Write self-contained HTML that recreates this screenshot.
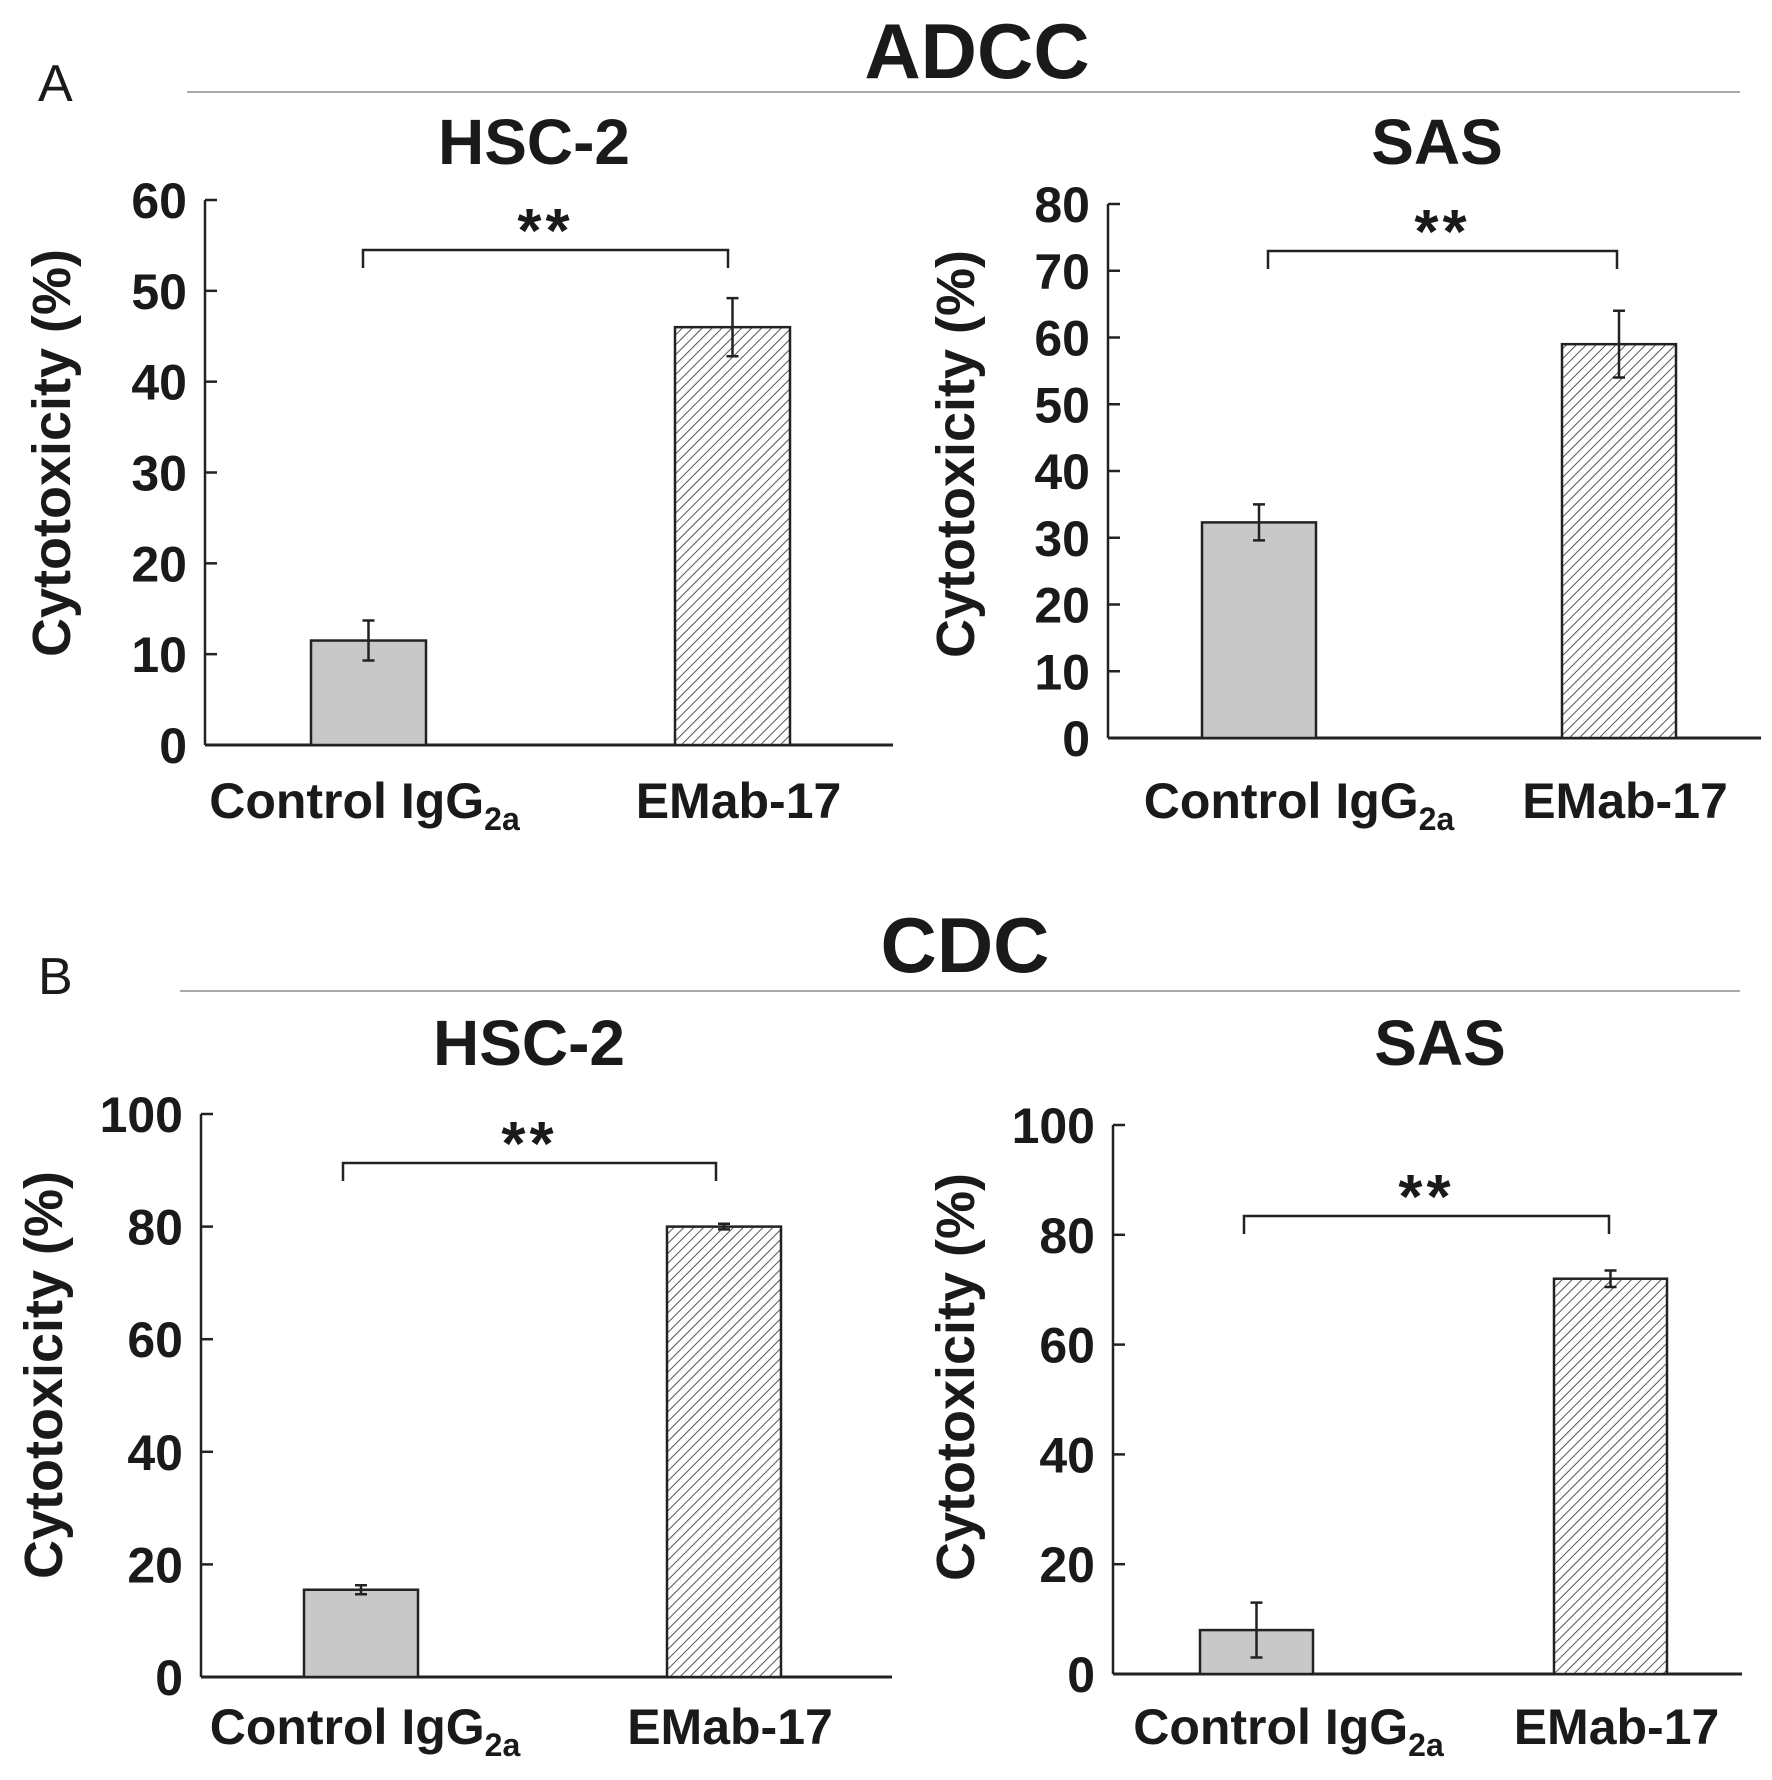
<!DOCTYPE html>
<html><head><meta charset="utf-8"><style>
html,body{margin:0;padding:0;background:#fff}
svg{display:block}
text{font-family:"Liberation Sans",Arial,sans-serif;font-weight:bold;fill:#1a1a1a}
</style></head><body>
<svg id="fig" width="1772" height="1780" viewBox="0 0 1772 1780" xmlns="http://www.w3.org/2000/svg">
<defs>
<pattern id="hatch" patternUnits="userSpaceOnUse" width="7" height="7" patternTransform="rotate(45)">
<rect width="7" height="7" fill="#fff"/>
<line x1="0" y1="0" x2="0" y2="7" stroke="#555" stroke-width="2"/>
</pattern>
</defs>
<text x="38" y="101" font-size="52" style="font-weight:normal">A</text>
<text x="977" y="78" font-size="78" text-anchor="middle">ADCC</text>
<line x1="187" y1="92" x2="1740" y2="92" stroke="#aaa" stroke-width="2"/>
<text x="38" y="994" font-size="52" style="font-weight:normal">B</text>
<text x="965" y="972" font-size="78" text-anchor="middle">CDC</text>
<line x1="180" y1="991" x2="1740" y2="991" stroke="#aaa" stroke-width="2"/>
<g id="charts"></g>
</svg>
<script>
const categories = ["Control IgG2a", "EMab-17"];
const adccHscValues = [11.5, 46];
const adccHscErrors = [2.2, 3.2];
const adccSasValues = [32.3, 59];
const adccSasErrors = [2.7, 5];
const cdcHscValues = [15.5, 80];
const cdcHscErrors = [0.8, 0.5];
const cdcSasValues = [8, 72];
const cdcSasErrors = [5, 1.5];
const adccHscTicks = [0, 10, 20, 30, 40, 50, 60];
const adccSasTicks = [0, 10, 20, 30, 40, 50, 60, 70, 80];
const cdcTicks = [0, 20, 40, 60, 80, 100];

const NS = "http://www.w3.org/2000/svg";
const root = document.getElementById("charts");
function mk(tag, attrs, parent){
  const e = document.createElementNS(NS, tag);
  for (const k in attrs) e.setAttribute(k, attrs[k]);
  (parent || root).appendChild(e);
  return e;
}
function chart(cfg){
  const g = mk("g", {});
  
  
  const max = cfg.ticks[cfg.ticks.length-1];
  const y = v => cfg.y0 - (v / max) * (cfg.y0 - cfg.yTop);
  const t = mk("text", {x: cfg.titleX, y: cfg.titleY + 22, "font-size": 64, "text-anchor": "middle"}, g);
  t.textContent = cfg.title;
  
  
  const yl = mk("text", {x: 0, y: 0, "font-size": 54, "text-anchor": "middle", transform: `translate(${cfg.ylX},${cfg.ylY}) rotate(-90)`}, g);
  yl.textContent = "Cytotoxicity (%)";
  
  
  const ax = mk("line", {x1: cfg.axX, y1: y(max), x2: cfg.axX, y2: cfg.y0, stroke: "#222", "stroke-width": 2.5}, g);
  
  
  const xa = mk("line", {x1: cfg.axX, y1: cfg.y0, x2: cfg.axRight, y2: cfg.y0, stroke: "#222", "stroke-width": 3}, g);
  
  
  cfg.ticks.forEach(v => {
    const tk = mk("line", {x1: cfg.axX, y1: y(v), x2: cfg.axX + 12, y2: y(v), stroke: "#222", "stroke-width": 2.5}, g);
    
    
    const tl = mk("text", {x: cfg.axX - 18, y: y(v) + 18, "font-size": 50, "text-anchor": "end"}, g);
    tl.textContent = v;
    
    
  });
  cfg.values.forEach((v, i) => {
    const x = cfg.barX[i];
    const b = mk("rect", {x: x, y: y(v), width: cfg.barW, height: cfg.y0 - y(v), fill: i === 0 ? "#c8c8c8" : "url(#hatch)", stroke: "#222", "stroke-width": 2.5}, g);
    
    
    const cx = x + cfg.barW / 2;
    const e = cfg.errors[i];
    const eb = mk("path", {d: `M${cx},${y(v+e)}V${y(v-e)}M${cx-6},${y(v+e)}H${cx+6}M${cx-6},${y(v-e)}H${cx+6}`, stroke: "#222", "stroke-width": 2.5, fill: "none"}, g);
    
    
    const cl = mk("text", {x: cx + (i === 0 ? cfg.ctrlOff : 6), y: cfg.catY, "font-size": 50, "text-anchor": "middle"}, g);
    if (i === 0) {
      cl.textContent = "Control IgG";
      const s = mk("tspan", {"font-size": 32, dy: 12}, cl);
      s.textContent = "2a";
    } else cl.textContent = categories[i];
    
    
  });
  const bk = mk("path", {d: `M${cfg.brX[0]},${cfg.brY+18}V${cfg.brY}H${cfg.brX[1]}V${cfg.brY+18}`, stroke: "#222", "stroke-width": 2.5, fill: "none"}, g);
  
  
  const st = mk("text", {x: (cfg.brX[0]+cfg.brX[1])/2, y: cfg.brY + 2, "font-size": 62, "text-anchor": "middle", "letter-spacing": "4"}, g);
  st.textContent = "**";
  
  
}
chart({name:"adcc-hsc2-chart", title:"HSC-2", titleX:534, titleY:142, ticks:adccHscTicks, values:adccHscValues, errors:adccHscErrors,
  axX:205, axRight:893, y0:745, yTop:200, barX:[311,675], barW:115, ylX:70, ylY:453, catY:818, brX:[363,728], brY:250, ctrlOff:-4});
chart({name:"adcc-sas-chart", title:"SAS", titleX:1437, titleY:142, ticks:adccSasTicks, values:adccSasValues, errors:adccSasErrors,
  axX:1108, axRight:1761, y0:738, yTop:204, barX:[1202,1562], barW:114, ylX:974, ylY:454, catY:818, brX:[1268,1617], brY:251, ctrlOff:40});
chart({name:"cdc-hsc2-chart", title:"HSC-2", titleX:529, titleY:1043, ticks:cdcTicks, values:cdcHscValues, errors:cdcHscErrors,
  axX:201, axRight:892, y0:1677, yTop:1114, barX:[304,667], barW:114, ylX:62, ylY:1375, catY:1744, brX:[343,716], brY:1163, ctrlOff:4});
chart({name:"cdc-sas-chart", title:"SAS", titleX:1440, titleY:1043, ticks:cdcTicks, values:cdcSasValues, errors:cdcSasErrors,
  axX:1113, axRight:1742, y0:1674, yTop:1125, barX:[1200,1554], barW:113, ylX:974, ylY:1377, catY:1744, brX:[1244,1609], brY:1216, ctrlOff:32});
</script>
</body></html>
